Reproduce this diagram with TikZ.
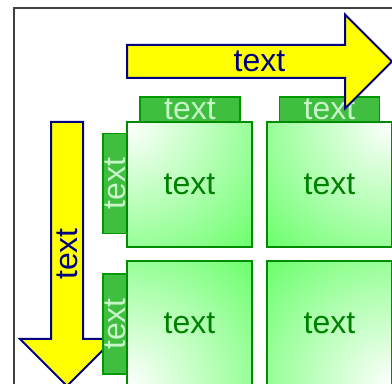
\documentclass[tikz,border=0pt]{standalone}
\usepackage{fontspec}
\setmainfont{Liberation Sans}
\definecolor{arrowyellow}{HTML}{FFFF00}
\definecolor{arrowblue}{HTML}{000080}
\definecolor{tabgreen}{HTML}{40BE40}
\definecolor{tabedge}{HTML}{009A00}
\definecolor{tabtext}{HTML}{C8F5C8}
\definecolor{cellgreen}{HTML}{66FF66}
\definecolor{celledge}{HTML}{008C00}
\definecolor{celltext}{HTML}{008000}
\begin{document}
\begin{tikzpicture}[x=0.5pt,y=-0.5pt,
  bigfont/.style={font=\fontsize{16}{19}\selectfont},
  bigarrow/.style={fill=arrowyellow,draw=arrowblue,line width=1pt},
  arrowtext/.style={bigfont,text=arrowblue,inner sep=0pt},
  tab/.style={bigfont,draw=tabedge,fill=tabgreen,line width=0.75pt,inner sep=0pt,
    text=tabtext,minimum width=50pt,minimum height=12.5pt},
  cell/.style={bigfont,draw=celledge,fill=cellgreen,line width=0.75pt,inner sep=0pt,
    text=celltext,minimum size=62.5pt,
    path picture={\shade[inner color=white,outer color=cellgreen]
      (path picture bounding box.#1) circle[radius=92pt];}}]
\useasboundingbox (0,0) rectangle (392,384);
\clip (0,0) rectangle (392,384);
\draw[black!75,line width=1pt] (14,8) rectangle (420,420);
% down arrow
\filldraw[bigarrow] (51,122) -- (83,122) -- (83,339) -- (114,339) -- (67,386)
  -- (20,339) -- (51,339) -- cycle;
\path node (downtext) at (67,254) [arrowtext,rotate=90] {text};
% tabs
\path node (tabA) at (190,109.5) [tab] {text}
      node (tabB) at (329.5,109.5) [tab] {text}
      node (tabC) at (115,183.5) [tab,rotate=90,minimum height=12pt] {text}
      node (tabD) at (115,324) [tab,rotate=90,minimum height=12pt] {text};
% cells
\path node (cellA) at (189.5,184.5) [cell=north west] {text}
      node (cellB) at (329.5,184.5) [cell=north east] {text}
      node (cellC) at (189.5,323.5) [cell=south west] {text}
      node (cellD) at (329.5,323.5) [cell=south east] {text};
% right arrow
\filldraw[bigarrow] (127,45) -- (345,45) -- (345,14.5) -- (392,61.5) -- (345,108.5)
  -- (345,78) -- (127,78) -- cycle;
\path node (righttext) at (259.5,61.5) [arrowtext] {text};
\end{tikzpicture}
\end{document}
